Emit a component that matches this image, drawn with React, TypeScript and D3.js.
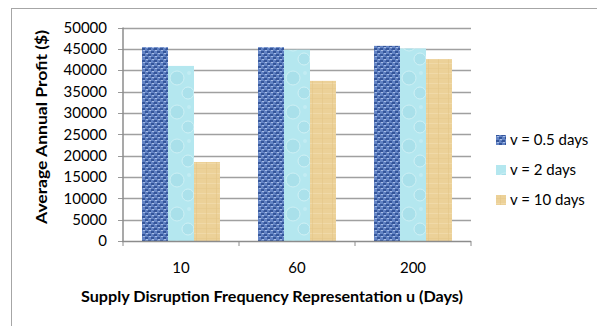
import React from "react";
import * as d3 from "d3";

const categories = ["10", "60", "200"];
const seriesNames = ["v = 0.5 days", "v = 2 days", "v = 10 days"];
const v05 = [45400, 45400, 45700];
const v2 = [41000, 44800, 45100];
const v10 = [18500, 37500, 42600];
const yTicks = [0, 5000, 10000, 15000, 20000, 25000, 30000, 35000, 40000, 45000, 50000];

const W = 597;
const H = 326;
const font = "Lato, 'Open Sans', sans-serif";

export default function App() {
  const seriesVals = [v05, v2, v10];
  const fills = ["url(#blueWeave)", "url(#water)", "url(#parch)"];

  const x0 = d3.scaleBand<string>().domain(categories).range([123, 471]).paddingInner(0.328).paddingOuter(0.164);
  const x1 = d3.scaleBand<string>().domain(seriesNames).range([0, x0.bandwidth()]);
  const y = d3.scaleLinear().domain([0, 50000]).range([241, 27.5]);

  return (
    <svg width={W} height={H} style={{ position: "absolute", left: 0, top: 0 }}>
      <defs>
        <pattern id="blueWeave" width="6" height="6" patternUnits="userSpaceOnUse">
          <rect width="6" height="6" fill="#6283c4" />
          <rect x="0" y="0" width="3" height="2" fill="#34559a" />
          <rect x="3" y="3" width="3" height="2" fill="#34559a" />
          <rect x="1" y="2" width="2" height="1" fill="#a8bde6" />
          <rect x="4" y="5" width="2" height="1" fill="#a8bde6" />
          <rect x="5" y="1" width="1" height="1" fill="#405fa5" />
        </pattern>
        <pattern id="water" width="26" height="34" patternUnits="userSpaceOnUse">
          <rect width="26" height="34" fill="#b4e7ef" />
          <circle cx="9" cy="10" r="7" fill="#a9e0ea" stroke="#cdf0f5" strokeWidth="1" />
          <circle cx="20" cy="25" r="6" fill="#abe1eb" stroke="#cff1f6" strokeWidth="1" />
          <circle cx="21" cy="5" r="2" fill="#c2ecf3" />
        </pattern>
        <pattern id="parch" width="10" height="10" patternUnits="userSpaceOnUse">
          <rect width="10" height="10" fill="#ecd198" />
          <rect x="0" y="3" width="10" height="1" fill="#f3ddb0" opacity="0.7" />
          <rect x="4" y="0" width="1" height="10" fill="#e2c383" opacity="0.5" />
          <rect x="0" y="8" width="10" height="1" fill="#e5c788" opacity="0.5" />
        </pattern>
      </defs>

      <rect x={11.5} y={8.5} width={W + 10} height={H + 10} fill="white" stroke="#a6a6a6" />

      {yTicks.map((t) => (
        <g key={t}>
          {t > 0 && <line x1={123} x2={471} y1={Math.round(y(t)) + 0.5} y2={Math.round(y(t)) + 0.5} stroke="#a0a0a0" strokeWidth={1.5} />}
          <line x1={118} x2={123} y1={Math.round(y(t)) + 0.5} y2={Math.round(y(t)) + 0.5} stroke="#999" />
          <text x={107} y={y(t)} dy="0.35em" textAnchor="end" fontFamily={font} fontSize={15}>
            {t}
          </text>
        </g>
      ))}

      {categories.map((c, ci) => (
        <g key={c} transform={`translate(${x0(c)},0)`}>
          {seriesNames.map((s, si) => (
            <rect key={s} x={x1(s)} y={y(seriesVals[si][ci])} width={x1.bandwidth()} height={y(0) - y(seriesVals[si][ci])} fill={fills[si]} />
          ))}
        </g>
      ))}

      <line x1={123} x2={123} y1={27.5} y2={241} stroke="#8c8c8c" strokeWidth={1.5} />
      <line x1={122} x2={471} y1={241.5} y2={241.5} stroke="#8c8c8c" strokeWidth={1.5} />
      {[0, 1, 2, 3].map((i) => {
        const xx = 123 + i * x0.step();
        return <line key={i} x1={xx} x2={xx} y1={241} y2={246} stroke="#8c8c8c" />;
      })}

      {categories.map((c) => (
        <text key={c} x={(x0(c) as number) + x0.bandwidth() / 2} y={268} dy="0.35em" textAnchor="middle" fontFamily={font} fontSize={15}>
          {c}
        </text>
      ))}

      <text x={272} y={302} textAnchor="middle" fontFamily={font} fontSize={15} fontWeight="bold" textLength={382} lengthAdjust="spacingAndGlyphs">
        Supply Disruption Frequency Representation u (Days)
      </text>
      <text transform="translate(47,127) rotate(-90)" textAnchor="middle" fontFamily={font} fontSize={15} fontWeight="bold" textLength={194} lengthAdjust="spacingAndGlyphs">
        Average Annual Profit ($)
      </text>

      {seriesNames.map((s, i) => (
        <g key={s} transform={`translate(496,${140 + i * 30})`}>
          <rect x={0} y={-5} width={10} height={10} fill={fills[i]} />
          <text x={14} y={0} dy="0.35em" fontFamily={font} fontSize={15}>
            {s}
          </text>
        </g>
      ))}
    </svg>
  );
}
